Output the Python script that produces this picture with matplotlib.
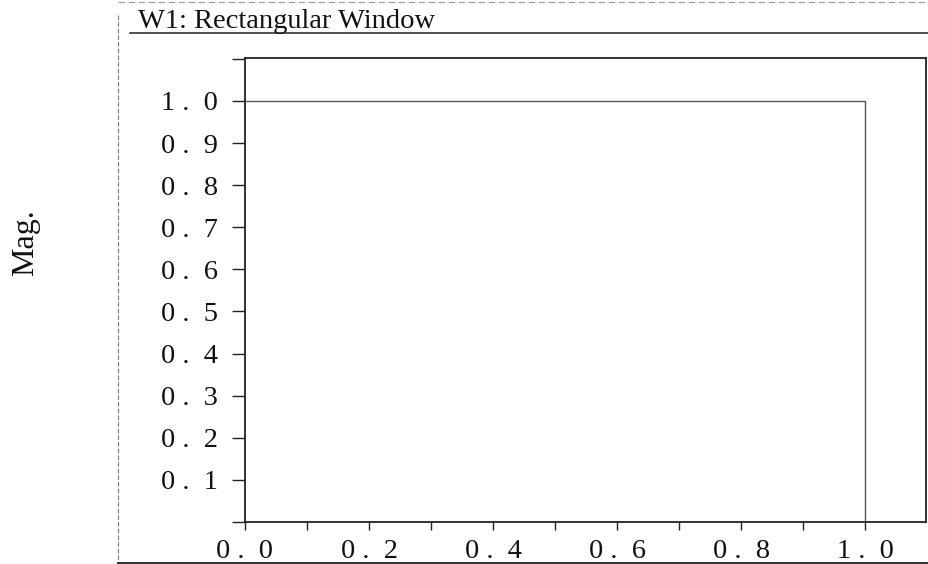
import matplotlib
matplotlib.use("Agg")
import matplotlib.pyplot as plt
from matplotlib.lines import Line2D

# rectangular window magnitude (normalised frequency)
freq = [0.0, 1.0, 1.0]
mag = [1.0, 1.0, 0.0]

xticks = [0.0, 0.2, 0.4, 0.6, 0.8, 1.0]
xminor = [0.1, 0.3, 0.5, 0.7, 0.9]
yticks = [0.0, 0.1, 0.2, 0.3, 0.4, 0.5, 0.6, 0.7, 0.8, 0.9, 1.0, 1.1]

title = "W1: Rectangular Window"
ylabel = "Mag."

def spaced(v):
    s = f"{v:.1f}"
    return s.replace(".", " .  ")

plt.rcParams['font.family'] = ['Liberation Serif', 'DejaVu Serif']

W, H = 929, 564
fig = plt.figure(figsize=(W / 100, H / 100), dpi=100)
ax = fig.add_axes([245 / W, (H - 522) / H, (926 - 245) / W, (522 - 58) / H])

ax.plot(freq, mag, color="#555555", lw=1.0)
ax.set_xlim(0, 1.098)
ax.set_ylim(0, 1.102)

ax.set_xticks(xticks)
ax.set_xticklabels([spaced(v) for v in xticks])
ax.set_xticks(xminor, minor=True)
ax.set_yticks(yticks)
ax.set_yticklabels(["" if (v < 0.05 or v > 1.05) else spaced(v) for v in yticks])

ax.tick_params(axis="x", which="both", direction="out", length=6, width=1.0,
               pad=6, labelsize=20.5, color="#222222", labelcolor="#111111")
ax.tick_params(axis="y", direction="out", length=9.5, width=1.0,
               pad=10, labelsize=20.5, color="#222222", labelcolor="#111111")
for sp in ax.spines.values():
    sp.set_linewidth(1.3)
    sp.set_color("#222222")

# scanned page frame
fig.text(138 / W, 1 - 28 / H, title, fontsize=20.5, ha="left", va="baseline",
         color="#111111")
fig.text(26 / W, 1 - 243 / H, ylabel, fontsize=23, rotation=90,
         ha="center", va="center", color="#111111")
fig.add_artist(Line2D([130 / W, 1.0], [1 - 33 / H, 1 - 33 / H],
                      color="#333333", lw=1.2))
fig.add_artist(Line2D([118 / W, 118 / W], [1 - 15 / H, 0.0],
                      color="#777777", lw=0.8, ls=(0, (4, 2))))
fig.add_artist(Line2D([118 / W, 1.0], [1 / H, 1 / H],
                      color="#333333", lw=1.4))
fig.add_artist(Line2D([118 / W, 1.0], [1 - 2 / H, 1 - 2 / H],
                      color="#999999", lw=0.8, ls=(0, (6, 3))))

fig.savefig("out.png", dpi=100)
